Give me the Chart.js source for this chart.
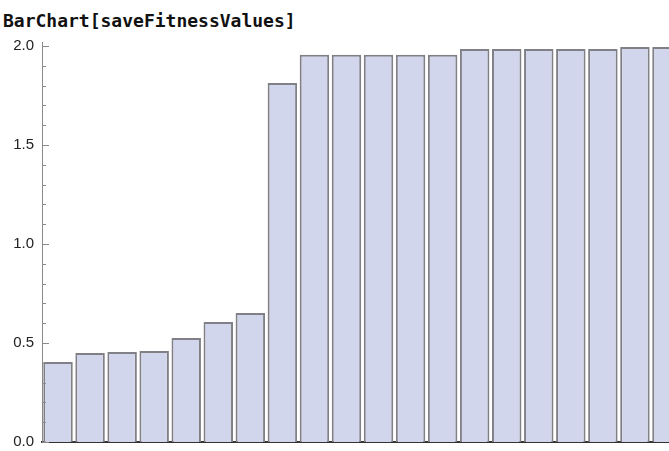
<!DOCTYPE html>
<html>
<head>
<meta charset="utf-8">
<script src="https://cdn.jsdelivr.net/npm/chart.js@4"></script>
<style>
  body { margin: 0; background: #fff; overflow: hidden; width: 669px; height: 451px; position: relative; }
  #titulo { position: absolute; left: 3px; top: 12px; font: bold 18px "DejaVu Sans Mono", monospace; line-height: 18px; color: #111; white-space: nowrap; }
  #grafico { position: absolute; left: 0; top: 0; }
</style>
</head>
<body>
<div id="titulo">BarChart[saveFitnessValues]</div>
<canvas id="grafico" width="683" height="451"></canvas>
<script>
// dados
const categorias = ['1','2','3','4','5','6','7','8','9','10','11','12','13','14','15','16','17','18','19','20'];
const fitness = [0.404, 0.449, 0.455, 0.46, 0.525, 0.606, 0.652, 1.813,
                 1.955, 1.955, 1.955, 1.955, 1.955,
                 1.985, 1.985, 1.985, 1.985, 1.985, 1.995, 1.995];
const ticksY = [0, 0.5, 1.0, 1.5, 2.0];

// marcas pequenas do eixo y, para dentro
const marcasY = {
  id: 'marcasY',
  afterDatasetsDraw(chart) {
    const y = chart.scales.y;
    const ctx = chart.ctx;
    ctx.save();
    ctx.strokeStyle = '#8a8a8a';
    ctx.lineWidth = 1;
    for (let i = 0; i <= 20; i++) {
      const v = i / 10;
      const py = Math.round(y.getPixelForValue(v)) + 0.5;
      const len = i % 5 === 0 ? 7 : 4;
      ctx.beginPath();
      ctx.moveTo(y.right, py);
      ctx.lineTo(y.right + len, py);
      ctx.stroke();
    }
    ctx.restore();
  }
};

const ctx = document.getElementById('grafico');
new Chart(ctx, {
  type: 'bar',
  data: {
    labels: categorias,
    datasets: [{
      data: fitness,
      backgroundColor: 'rgb(210, 214, 237)',
      borderColor: 'rgb(128, 128, 134)',
      borderWidth: 2,
      barPercentage: 0.92,
      categoryPercentage: 1.0
    }]
  },
  options: {
    responsive: false,
    animation: false,
    layout: { padding: { top: 42, left: 0, right: 0, bottom: 0 } },
    plugins: { legend: { display: false }, tooltip: { enabled: false } },
    scales: {
      x: {
        z: 1,
        ticks: { display: false },
        grid: { display: false, drawTicks: false },
        border: { color: '#333', width: 2 },
        afterFit: (s) => { s.height = 9; }
      },
      y: {
        min: 0,
        max: 2.02,
        afterBuildTicks: (s) => { s.ticks = ticksY.map(v => ({ value: v })); },
        afterFit: (s) => { s.width = 42; s.paddingTop = 0; s.paddingBottom = 0; },
        ticks: {
          padding: 8,
          color: '#222',
          font: { family: 'Liberation Sans', size: 15 },
          callback: (v) => Number(v).toFixed(1)
        },
        grid: { display: false, drawTicks: false },
        border: { color: '#8a8a8a', width: 1 }
      }
    }
  },
  plugins: [marcasY]
});
</script>
</body>
</html>
